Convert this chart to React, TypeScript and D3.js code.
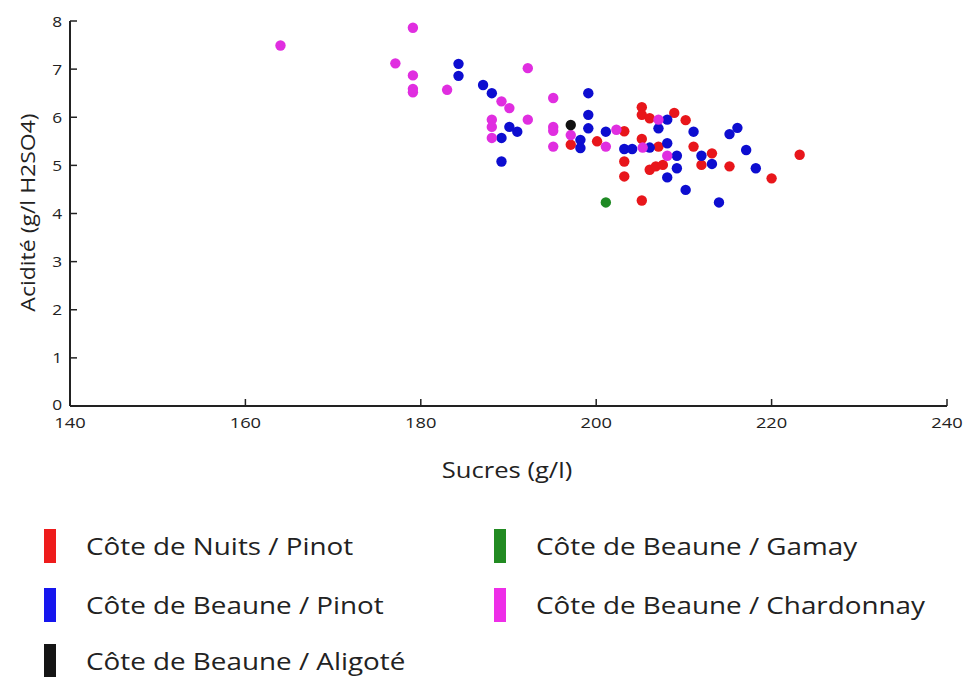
import React from "react";
import * as d3 from "d3";

const seriesNames = [
  "Côte de Nuits / Pinot",
  "Côte de Beaune / Pinot",
  "Côte de Beaune / Aligoté",
  "Côte de Beaune / Gamay",
  "Côte de Beaune / Chardonnay",
];
const seriesColors = ["#e8161b", "#0d0dd0", "#111111", "#1f8a24", "#e02ee0"];
const legendColors = ["#ee1c1c", "#1616ee", "#151515", "#228b22", "#ee2ee8"];

// [sucres, acidité]
const nuitsPinot: [number, number][] = [
  [197.1, 5.43], [200.1, 5.5], [203.2, 5.71], [203.2, 5.08], [203.2, 4.77],
  [205.2, 6.21], [205.2, 6.05], [206.1, 5.98], [208.9, 6.09], [210.2, 5.94],
  [205.2, 5.55], [207.1, 5.39], [206.1, 4.91], [206.8, 4.98], [207.6, 5.01],
  [211.1, 5.39], [213.2, 5.25], [212.0, 5.01], [215.2, 4.98], [220.0, 4.73],
  [223.2, 5.22], [205.2, 4.27],
];
const beaunePinot: [number, number][] = [
  [184.3, 7.11], [184.3, 6.86], [187.1, 6.67], [188.1, 6.5], [190.1, 5.8],
  [191.0, 5.7], [189.2, 5.57], [189.2, 5.08], [199.1, 6.5], [199.1, 6.05],
  [199.1, 5.77], [198.2, 5.53], [198.2, 5.36], [201.1, 5.7], [203.2, 5.34],
  [204.1, 5.34], [207.1, 5.77], [208.1, 5.95], [206.1, 5.37], [208.1, 5.46],
  [209.2, 5.2], [209.2, 4.94], [208.1, 4.75], [210.2, 4.49], [211.1, 5.7],
  [212.0, 5.2], [213.2, 5.03], [215.2, 5.65], [216.1, 5.78], [217.1, 5.32],
  [218.2, 4.94], [214.0, 4.23],
];
const beauneAligote: [number, number][] = [[197.1, 5.84]];
const beauneGamay: [number, number][] = [[201.1, 4.23]];
const beauneChardonnay: [number, number][] = [
  [164.0, 7.49], [179.1, 7.86], [177.1, 7.12], [179.1, 6.87], [179.1, 6.59],
  [179.1, 6.52], [183.0, 6.57], [192.2, 7.02], [189.2, 6.33], [190.1, 6.19],
  [188.1, 5.95], [188.1, 5.8], [188.1, 5.57], [192.2, 5.95], [195.1, 6.4],
  [195.1, 5.8], [195.1, 5.72], [195.1, 5.39], [197.1, 5.63], [201.1, 5.39],
  [202.3, 5.74], [207.1, 5.95], [205.3, 5.37], [208.1, 5.2],
];
const seriesData = [nuitsPinot, beaunePinot, beauneAligote, beauneGamay, beauneChardonnay];
const drawOrder = [0, 1, 3, 4, 2];

const xTicks = [140, 160, 180, 200, 220, 240];
const yTicks = [0, 1, 2, 3, 4, 5, 6, 7, 8];
const xTitle = "Sucres (g/l)";
const yTitle = "Acidité (g/l H2SO4)";

const W = 966;
const H = 677;
const FONT = "'Open Sans', 'DejaVu Sans', sans-serif";

export default function App() {
  const x = d3.scaleLinear().domain([140, 240]).range([70, 947]);
  const y = d3.scaleLinear().domain([0, 8]).range([406, 21]);
  const legendPos = [
    { lx: 44, ly: 546 },
    { lx: 44, ly: 605 },
    { lx: 44, ly: 661 },
    { lx: 494, ly: 546 },
    { lx: 494, ly: 605 },
  ];
  return (
    <svg
      width={W}
      height={H}
      style={{ position: "absolute", left: 0, top: 0, background: "#fff" }}
      fontFamily={FONT}
    >
      <rect width={W} height={H} fill="#fff" />
      {/* axes */}
      <line x1={x(140)} x2={x(140)} y1={y(0)} y2={y(8)} stroke="#222" strokeWidth={2} />
      <line x1={x(140)} x2={x(240)} y1={y(0)} y2={y(0)} stroke="#222" strokeWidth={2} />
      {yTicks.map((t) => (
        <g key={"y" + t}>
          <line x1={x(140)} x2={x(140) + 7} y1={y(t)} y2={y(t)} stroke="#222" strokeWidth={1.5} />
          <text
            transform={`translate(${x(140) - 8}, ${t === 0 ? y(t) - 2 : y(t)}) scale(1.15, 1)`}
            textAnchor="end"
            dominantBaseline="central"
            fontSize={15}
            fill="#222"
          >
            {t}
          </text>
        </g>
      ))}
      {xTicks.map((t) => (
        <g key={"x" + t}>
          <line x1={x(t)} x2={x(t)} y1={y(0)} y2={y(0) - 7} stroke="#222" strokeWidth={1.5} />
          <text
            transform={`translate(${x(t)}, ${y(0) + 16}) scale(1.22, 1)`}
            textAnchor="middle"
            dominantBaseline="central"
            fontSize={15}
            fill="#222"
          >
            {t}
          </text>
        </g>
      ))}
      <text
        transform="translate(507, 470) scale(1.22, 1)"
        textAnchor="middle"
        dominantBaseline="central"
        fontSize={21}
        fill="#222"
      >
        {xTitle}
      </text>
      <text
        transform={`translate(27, ${(y(0) + y(8)) / 2 - 1}) rotate(-90) scale(1.15, 1)`}
        textAnchor="middle"
        dominantBaseline="central"
        fontSize={20}
        fill="#222"
      >
        {yTitle}
      </text>
      {/* points */}
      {drawOrder.map((si) => (
        <g key={"s" + si}>
          {seriesData[si].map((d, i) => (
            <circle key={i} cx={x(d[0])} cy={y(d[1])} r={5.2} fill={seriesColors[si]} />
          ))}
        </g>
      ))}
      {/* legend */}
      {seriesNames.map((name, i) => (
        <g key={"l" + i}>
          <rect x={legendPos[i].lx} y={legendPos[i].ly - 17} width={12} height={34} fill={legendColors[i]} />
          <text
            transform={`translate(${legendPos[i].lx + 42}, ${legendPos[i].ly}) scale(1.21, 1)`}
            dominantBaseline="central"
            fontSize={23}
            fill="#222"
          >
            {name}
          </text>
        </g>
      ))}
    </svg>
  );
}
